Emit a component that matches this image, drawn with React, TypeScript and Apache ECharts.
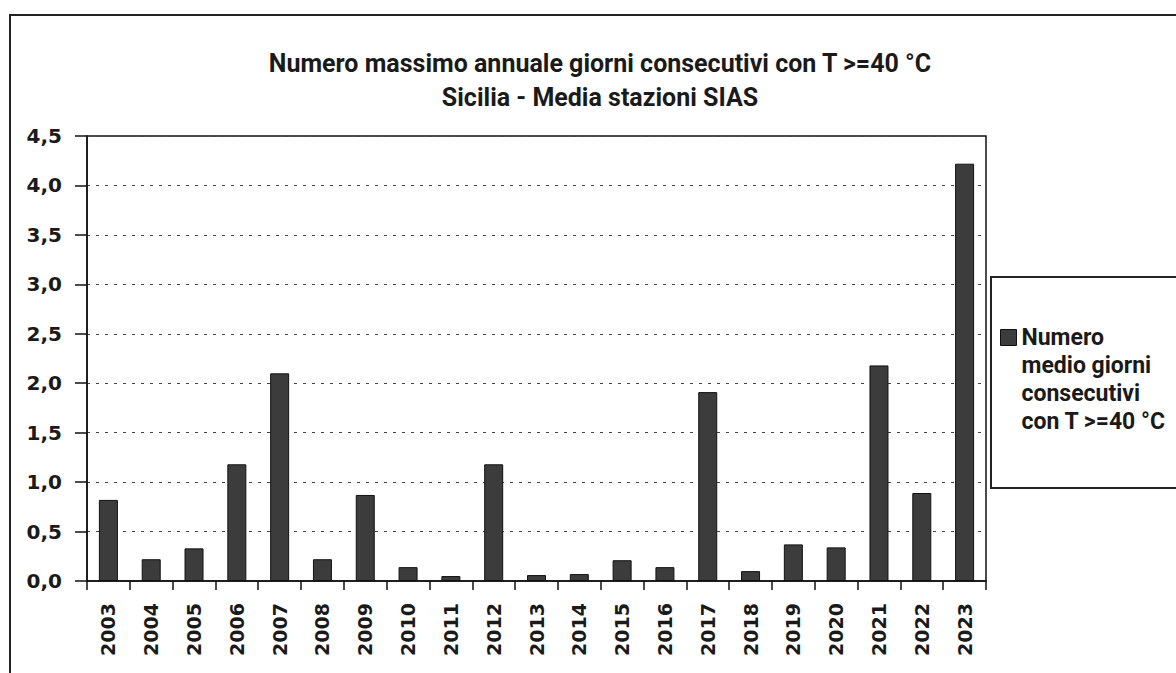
import React, { useEffect, useRef } from "react";
import * as echarts from "echarts";

const titleLines = ["Numero massimo annuale giorni consecutivi con T >=40 °C", "Sicilia - Media stazioni SIAS"];
const years = ["2003","2004","2005","2006","2007","2008","2009","2010","2011","2012","2013","2014","2015","2016","2017","2018","2019","2020","2021","2022","2023"];
const values = [0.82,0.22,0.33,1.18,2.1,0.22,0.87,0.14,0.05,1.18,0.06,0.07,0.21,0.14,1.91,0.1,0.37,0.34,2.18,0.89,4.22];
const seriesName = "Numero\nmedio giorni\nconsecutivi\ncon T >=40 °C";
const yTicks = { min: 0, max: 4.5, interval: 0.5 };

const TFONT = "Roboto, 'Noto Sans', sans-serif";
const AFONT = "'DejaVu Sans', Verdana, sans-serif";

export default function App() {
  const ref = useRef<HTMLDivElement>(null);
  useEffect(() => {
    const chart = echarts.init(ref.current!, null, { renderer: "svg" });
    chart.setOption({
      animation: false,
      backgroundColor: "#fff",
      title: {
        text: titleLines.join("\n"),
        left: 595,
        top: 41,
        textAlign: "center",
        textStyle: { fontFamily: TFONT, fontWeight: "bold", fontSize: 25, lineHeight: 34, color: "#1a1a1a" },
      },
      grid: {
        left: 87, right: 190, top: 136, bottom: 92,
        show: true, borderColor: "#111", borderWidth: 1.5, backgroundColor: "transparent",
      },
      legend: {
        left: 1000,
        top: 323,
        padding: 0,
        orient: "vertical",
        itemWidth: 16,
        itemHeight: 112,
        itemGap: 0,
        textGap: 9,
        icon: "path://M0,0M0,112M0,6h16v16h-16z",
        itemStyle: { color: "#3c3c3c", borderColor: "#111", borderWidth: 1 },
        textStyle: { fontFamily: TFONT, fontWeight: "bold", fontSize: 23, lineHeight: 28, color: "#1a1a1a" },
        data: [seriesName],
      },
      xAxis: {
        type: "category",
        data: years,
        axisLine: { lineStyle: { color: "#111", width: 1.5 } },
        axisTick: { show: true, alignWithLabel: false, length: 9, lineStyle: { color: "#111", width: 1.5 } },
        axisLabel: {
          rotate: 90, margin: 22, interval: 0,
          fontFamily: AFONT, fontWeight: "bold", fontSize: 19, color: "#1a1a1a",
        },
      },
      yAxis: {
        type: "value",
        min: yTicks.min, max: yTicks.max, interval: yTicks.interval,
        axisLine: { show: true, lineStyle: { color: "#111", width: 1.5 } },
        axisTick: { show: true, length: 12, lineStyle: { color: "#111", width: 1.5 } },
        axisLabel: {
          margin: 25,
          fontFamily: AFONT, fontWeight: "bold", fontSize: 20, color: "#1a1a1a",
          formatter: (v: number) => v.toFixed(1).replace(".", ","),
        },
        splitLine: { show: true, lineStyle: { type: [3, 6], color: "#444", width: 1 } },
      },
      series: [
        {
          name: seriesName,
          type: "bar",
          data: values,
          barWidth: 19,
          itemStyle: { color: "#3c3c3c", borderColor: "#111", borderWidth: 1 },
        },
      ],
      graphic: [
        {
          type: "rect",
          shape: { x: 10, y: 15, width: 1200, height: 700 },
          style: { fill: "none", stroke: "#222", lineWidth: 2 },
          silent: true,
        },
        {
          type: "rect",
          shape: { x: 991, y: 277, width: 200, height: 211 },
          style: { fill: "none", stroke: "#222", lineWidth: 2 },
          silent: true,
        },
      ],
    });
    return () => chart.dispose();
  }, []);
  return <div ref={ref} style={{ position: "fixed", left: 0, top: 0, width: 1176, height: 673 }} />;
}
